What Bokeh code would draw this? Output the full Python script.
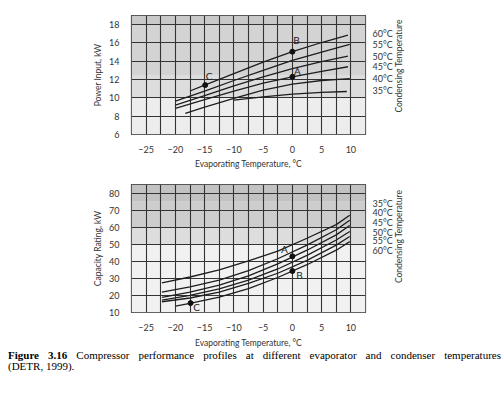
import math
from bokeh.plotting import figure
from bokeh.layouts import column
from bokeh.models import (Range1d, SingleIntervalTicker, FixedTicker, LinearAxis,
                          Label, BoxAnnotation, Div)
from bokeh.embed import file_html
from bokeh.resources import INLINE

FONT = "Lato"
INK = "#1e1e1e"
GRID = "#333333"
TXT = "#333333"

# ---------------- data: power input (top chart) ----------------
cond_top = ["60°C", "55°C", "50°C", "45°C", "40°C", "35°C"]
cond_top_pos = [17.0, 15.8, 14.55, 13.4, 12.1, 10.8]

pw_x_60 = [-17.5, -15, -10, -5, 0, 5, 9.5]
pw_y_60 = [10.75, 11.4, 12.65, 13.9, 15.05, 16.05, 16.85]
pw_x_55 = [-20, -15, -10, -5, 0, 5, 9.8]
pw_y_55 = [9.65, 10.75, 11.9, 13.0, 14.1, 15.0, 15.85]
pw_x_50 = [-20, -15, -10, -5, 0, 5, 9.5]
pw_y_50 = [9.2, 10.25, 11.3, 12.3, 13.2, 13.95, 14.55]
pw_x_45 = [-20, -15, -10, -5, 0, 5, 9.5]
pw_y_45 = [8.85, 9.8, 10.75, 11.6, 12.3, 12.9, 13.4]
pw_x_40 = [-18.3, -15, -10, -5, 0, 5, 9.8]
pw_y_40 = [8.3, 9.0, 9.95, 10.85, 11.5, 11.9, 12.1]
pw_x_35 = [-10, -5, 0, 5, 9.3]
pw_y_35 = [9.75, 10.1, 10.4, 10.6, 10.7]

pw_pt_names = ["B", "A", "C"]
pw_pt_x = [0, 0, -14.9]
pw_pt_y = [15.05, 12.3, 11.4]
pw_pt_dx = [4, 5, 4]
pw_pt_dy = [-12, -6, -9]

# ---------------- data: capacity rating (bottom chart) ----------------
cond_bot = ["35°C", "40°C", "45°C", "50°C", "55°C", "60°C"]
cond_bot_pos = [73.6, 68.5, 63.0, 57.1, 52.0, 46.6]

cap_x = [-22.3, -17.5, -12.5, -7.5, -2.5, 2.5, 7.5, 9.8]
cap_y_35 = [27.3, 30.8, 35.0, 40.3, 46.0, 53.5, 61.5, 67.0]
cap_y_40 = [21.9, 25.0, 29.0, 34.5, 41.5, 49.5, 58.5, 64.0]
cap_y_45 = [18.8, 22.0, 26.0, 31.5, 38.5, 46.5, 55.5, 61.0]
cap_y_50 = [17.2, 20.0, 23.8, 29.0, 35.5, 43.5, 52.5, 57.5]
cap_y_55 = [16.3, 18.5, 22.0, 27.0, 33.0, 40.5, 49.5, 54.5]
cap_x_60 = [-20, -17.5, -12.5, -7.5, -2.5, 2.5, 7.5, 9.8]
cap_y_60 = [13.7, 15.4, 19.0, 24.0, 30.5, 38.0, 46.5, 51.5]

cap_pt_names = ["A", "B", "C"]
cap_pt_x = [0, 0, -17.4]
cap_pt_y = [42.9, 34.3, 15.5]
cap_pt_dx = [-8, 7, 6]
cap_pt_dy = [-7, 4, 4]

caption_bold = "Figure 3.16"
caption_rest = "Compressor performance profiles at different evaporator and condenser temperatures"
caption_line2 = "(DETR, 1999)."
side_title = "Condensing Temperature"


def style_axis(ax, standoff, size="9px"):
    ax.axis_line_color = None
    ax.major_tick_line_color = None
    ax.minor_tick_line_color = None
    ax.major_label_text_font = FONT
    ax.major_label_text_font_size = size
    ax.major_label_text_color = TXT
    ax.major_label_standoff = standoff
    ax.axis_label_text_font = FONT
    ax.axis_label_text_font_size = "8.5px"
    ax.axis_label_text_font_style = "normal"
    ax.axis_label_text_color = TXT


def make_chart(height, yr, ytick, bands, top_b, bot_b, ylabel, x_stand, xl_stand,
               series, pts, cond_names, cond_pos):
    p = figure(width=494, height=height, x_range=Range1d(-27.5, 12.5), y_range=Range1d(*yr),
               output_backend="svg", toolbar_location=None,
               min_border_left=131, min_border_right=129,
               min_border_top=top_b, min_border_bottom=bot_b)
    p.background_fill_color = "#f3f3f3"
    p.outline_line_color = GRID
    p.outline_line_width = 1.2
    for (b0, b1, c) in bands:
        p.add_layout(BoxAnnotation(bottom=b0, top=b1, fill_color=c, fill_alpha=1.0,
                                   line_color=None, level="image"))
    p.xaxis.ticker = SingleIntervalTicker(interval=5)
    p.yaxis.ticker = SingleIntervalTicker(interval=ytick)
    p.xgrid.ticker = SingleIntervalTicker(interval=2.5)
    p.ygrid.ticker = SingleIntervalTicker(interval=ytick)
    for g in (p.xgrid[0], p.ygrid[0]):
        g.grid_line_color = GRID
        g.grid_line_width = 1.1
        g.level = "underlay"
    p.xaxis.axis_label = "Evaporating Temperature, °C"
    p.yaxis.axis_label = ylabel
    style_axis(p.xaxis[0], x_stand)
    style_axis(p.yaxis[0], 6)
    p.xaxis.axis_label_standoff = xl_stand
    p.yaxis.axis_label_standoff = 3

    rax = LinearAxis(ticker=FixedTicker(ticks=cond_pos),
                     major_label_overrides={float(v): n for v, n in zip(cond_pos, cond_names)})
    style_axis(rax, 1)
    p.add_layout(rax, "right")

    mid = (yr[0] + yr[1]) / 2.0
    tax = LinearAxis(ticker=FixedTicker(ticks=[mid]),
                     major_label_overrides={float(mid): side_title})
    style_axis(tax, -2, "8.5px")
    tax.major_label_orientation = math.pi / 2
    p.add_layout(tax, "right")

    for xs, ys in series:
        p.line(xs, ys, line_color=INK, line_width=1.3)

    names, px, py, dx, dy = pts
    p.scatter(px, py, size=5, color="#111111")
    for n, x0, y0, ox, oy in zip(names, px, py, dx, dy):
        p.add_layout(Label(x=x0, y=y0, text=n, x_offset=ox, y_offset=-oy,
                           text_font=FONT, text_font_size="10px", text_color="#222222",
                           text_align="center", text_baseline="middle"))
    return p


p1 = make_chart(172, (6, 19), 2,
                [(6, 10, "#ededed"), (10, 12.5, "#dddddd"), (12.5, 18, "#d3d3d3"), (18, 19, "#c9c9c9")],
                15, 38, "Power Input, kW", 5, 3,
                [(pw_x_60, pw_y_60), (pw_x_55, pw_y_55), (pw_x_50, pw_y_50),
                 (pw_x_45, pw_y_45), (pw_x_40, pw_y_40), (pw_x_35, pw_y_35)],
                (pw_pt_names, pw_pt_x, pw_pt_y, pw_pt_dx, pw_pt_dy),
                cond_top, cond_top_pos)

p2 = make_chart(178, (10, 85), 10,
                [(10, 50, "#f1f1f1"), (50, 60, "#dddddd"), (60, 75, "#cdcdcd"), (75, 85, "#c2c2c2")],
                12, 29, "Capacity Rating, kW", 5, 4,
                [(cap_x, cap_y_35), (cap_x, cap_y_40), (cap_x, cap_y_45),
                 (cap_x, cap_y_50), (cap_x, cap_y_55), (cap_x_60, cap_y_60)],
                (cap_pt_names, cap_pt_x, cap_pt_y, cap_pt_dx, cap_pt_dy),
                cond_bot, cond_bot_pos)

caption_html = (
    '<div style="font-family:\'Liberation Serif\',serif;font-size:11px;line-height:11px;'
    'color:#000;width:493px;margin-left:3px;position:relative;top:-5px;">'
    '<div style="text-align:justify;text-align-last:justify;white-space:nowrap;">'
    f'<b>{caption_bold}</b> {caption_rest}</div>'
    f'<div>{caption_line2}</div></div>'
)
cap_div = Div(text=caption_html, width=498, height=26)

layout = column(p1, p2, cap_div, spacing=0)
open("out.html", "w").write(file_html(layout, INLINE))
